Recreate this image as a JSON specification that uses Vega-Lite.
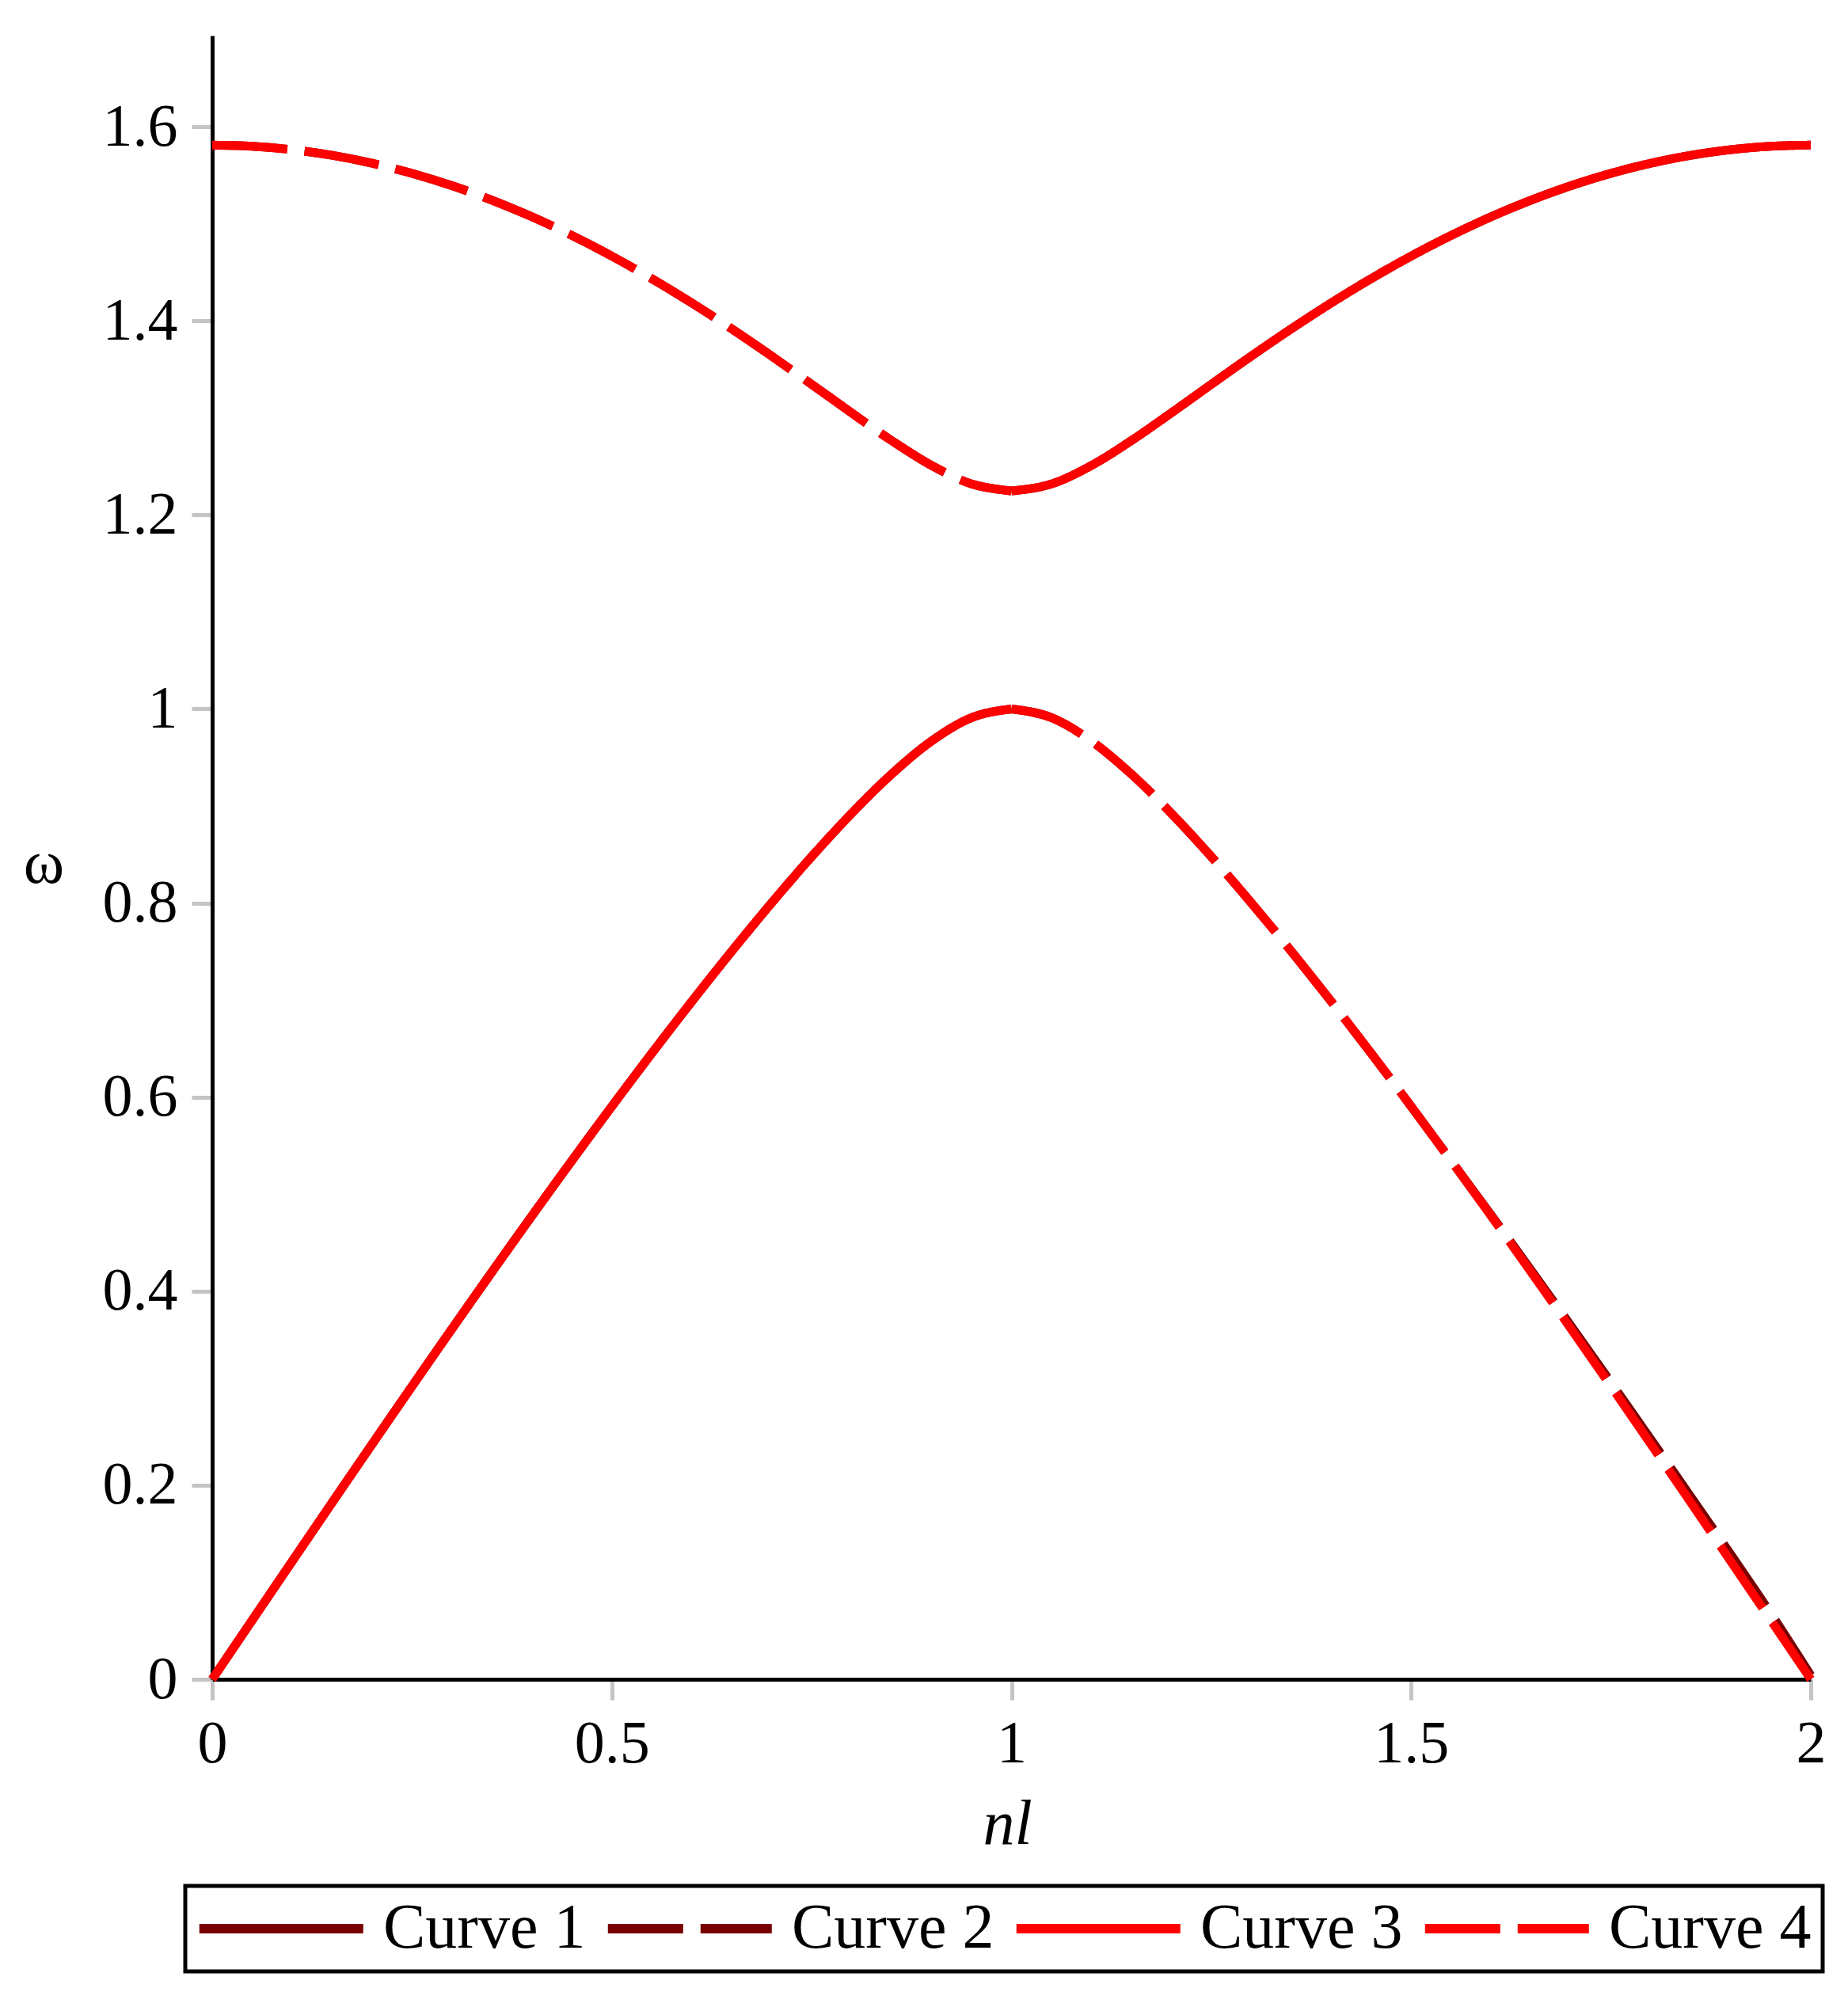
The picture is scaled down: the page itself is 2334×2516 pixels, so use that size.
{
  "$schema": "https://vega.github.io/schema/vega-lite/v6.json",
  "autosize": {"type": "none"},
  "width": 2019,
  "height": 2076,
  "padding": {"left": 268, "top": 45, "right": 47, "bottom": 395},
  "background": "white",
  "config": {
    "view": {"stroke": null},
    "font": "Liberation Serif",
    "axis": {"grid": false, "labelFlush": false, "domainColor": "black", "domainWidth": 5, "tickColor": "#c4c4c4", "tickWidth": 5, "tickSize": 26, "labelFont": "Liberation Serif", "labelFontSize": 76, "labelColor": "black", "titleFont": "Liberation Serif", "titleColor": "black", "titleFontWeight": "normal"}
  },
  "data": {"values": [
    {"c":"Curve 1","s":"a","x":0,"y":0},{"c":"Curve 1","s":"a","x":0.05,"y":0.06082},{"c":"Curve 1","s":"a","x":0.1,"y":0.12153},{"c":"Curve 1","s":"a","x":0.15,"y":0.18204},{"c":"Curve 1","s":"a","x":0.2,"y":0.24222},{"c":"Curve 1","s":"a","x":0.25,"y":0.30198},{"c":"Curve 1","s":"a","x":0.3,"y":0.36121},{"c":"Curve 1","s":"a","x":0.35,"y":0.41979},{"c":"Curve 1","s":"a","x":0.4,"y":0.47761},{"c":"Curve 1","s":"a","x":0.45,"y":0.53453},{"c":"Curve 1","s":"a","x":0.5,"y":0.59043},{"c":"Curve 1","s":"a","x":0.55,"y":0.64516},{"c":"Curve 1","s":"a","x":0.6,"y":0.69853},{"c":"Curve 1","s":"a","x":0.65,"y":0.75031},{"c":"Curve 1","s":"a","x":0.7,"y":0.80022},{"c":"Curve 1","s":"a","x":0.75,"y":0.84782},{"c":"Curve 1","s":"a","x":0.8,"y":0.89242},{"c":"Curve 1","s":"a","x":0.85,"y":0.93285},{"c":"Curve 1","s":"a","x":0.9,"y":0.96697},{"c":"Curve 1","s":"a","x":0.95,"y":0.99104},{"c":"Curve 1","s":"a","x":1,"y":1},
    {"c":"Curve 1","s":"b","x":1,"y":1.22474},{"c":"Curve 1","s":"b","x":1.05,"y":1.232},{"c":"Curve 1","s":"b","x":1.1,"y":1.25099},{"c":"Curve 1","s":"b","x":1.15,"y":1.27664},{"c":"Curve 1","s":"b","x":1.2,"y":1.30521},{"c":"Curve 1","s":"b","x":1.25,"y":1.33461},{"c":"Curve 1","s":"b","x":1.3,"y":1.36369},{"c":"Curve 1","s":"b","x":1.35,"y":1.39177},{"c":"Curve 1","s":"b","x":1.4,"y":1.41847},{"c":"Curve 1","s":"b","x":1.45,"y":1.44353},{"c":"Curve 1","s":"b","x":1.5,"y":1.46676},{"c":"Curve 1","s":"b","x":1.55,"y":1.48804},{"c":"Curve 1","s":"b","x":1.6,"y":1.50728},{"c":"Curve 1","s":"b","x":1.65,"y":1.52439},{"c":"Curve 1","s":"b","x":1.7,"y":1.53933},{"c":"Curve 1","s":"b","x":1.75,"y":1.55203},{"c":"Curve 1","s":"b","x":1.8,"y":1.56248},{"c":"Curve 1","s":"b","x":1.85,"y":1.57063},{"c":"Curve 1","s":"b","x":1.9,"y":1.57646},{"c":"Curve 1","s":"b","x":1.95,"y":1.57997},{"c":"Curve 1","s":"b","x":2,"y":1.58114},
    {"c":"Curve 2","s":"a","x":0,"y":1.58114},{"c":"Curve 2","s":"a","x":0.05,"y":1.57997},{"c":"Curve 2","s":"a","x":0.1,"y":1.57646},{"c":"Curve 2","s":"a","x":0.15,"y":1.57063},{"c":"Curve 2","s":"a","x":0.2,"y":1.56248},{"c":"Curve 2","s":"a","x":0.25,"y":1.55203},{"c":"Curve 2","s":"a","x":0.3,"y":1.53933},{"c":"Curve 2","s":"a","x":0.35,"y":1.52439},{"c":"Curve 2","s":"a","x":0.4,"y":1.50728},{"c":"Curve 2","s":"a","x":0.45,"y":1.48804},{"c":"Curve 2","s":"a","x":0.5,"y":1.46676},{"c":"Curve 2","s":"a","x":0.55,"y":1.44353},{"c":"Curve 2","s":"a","x":0.6,"y":1.41847},{"c":"Curve 2","s":"a","x":0.65,"y":1.39177},{"c":"Curve 2","s":"a","x":0.7,"y":1.36369},{"c":"Curve 2","s":"a","x":0.75,"y":1.33461},{"c":"Curve 2","s":"a","x":0.8,"y":1.30521},{"c":"Curve 2","s":"a","x":0.85,"y":1.27664},{"c":"Curve 2","s":"a","x":0.9,"y":1.25099},{"c":"Curve 2","s":"a","x":0.95,"y":1.232},{"c":"Curve 2","s":"a","x":1,"y":1.22474},
    {"c":"Curve 2","s":"b","x":1,"y":1},{"c":"Curve 2","s":"b","x":1.05,"y":0.99104},{"c":"Curve 2","s":"b","x":1.1,"y":0.96697},{"c":"Curve 2","s":"b","x":1.15,"y":0.93285},{"c":"Curve 2","s":"b","x":1.2,"y":0.89242},{"c":"Curve 2","s":"b","x":1.25,"y":0.84782},{"c":"Curve 2","s":"b","x":1.3,"y":0.80022},{"c":"Curve 2","s":"b","x":1.35,"y":0.75031},{"c":"Curve 2","s":"b","x":1.4,"y":0.69853},{"c":"Curve 2","s":"b","x":1.45,"y":0.64516},{"c":"Curve 2","s":"b","x":1.5,"y":0.59043},{"c":"Curve 2","s":"b","x":1.55,"y":0.53453},{"c":"Curve 2","s":"b","x":1.6,"y":0.47861},{"c":"Curve 2","s":"b","x":1.65,"y":0.42179},{"c":"Curve 2","s":"b","x":1.7,"y":0.36421},{"c":"Curve 2","s":"b","x":1.75,"y":0.30598},{"c":"Curve 2","s":"b","x":1.8,"y":0.24722},{"c":"Curve 2","s":"b","x":1.85,"y":0.18804},{"c":"Curve 2","s":"b","x":1.9,"y":0.12853},{"c":"Curve 2","s":"b","x":1.95,"y":0.06782},{"c":"Curve 2","s":"b","x":2,"y":0.004},
    {"c":"Curve 3","s":"a","x":0,"y":0},{"c":"Curve 3","s":"a","x":0.05,"y":0.06082},{"c":"Curve 3","s":"a","x":0.1,"y":0.12153},{"c":"Curve 3","s":"a","x":0.15,"y":0.18204},{"c":"Curve 3","s":"a","x":0.2,"y":0.24222},{"c":"Curve 3","s":"a","x":0.25,"y":0.30198},{"c":"Curve 3","s":"a","x":0.3,"y":0.36121},{"c":"Curve 3","s":"a","x":0.35,"y":0.41979},{"c":"Curve 3","s":"a","x":0.4,"y":0.47761},{"c":"Curve 3","s":"a","x":0.45,"y":0.53453},{"c":"Curve 3","s":"a","x":0.5,"y":0.59043},{"c":"Curve 3","s":"a","x":0.55,"y":0.64516},{"c":"Curve 3","s":"a","x":0.6,"y":0.69853},{"c":"Curve 3","s":"a","x":0.65,"y":0.75031},{"c":"Curve 3","s":"a","x":0.7,"y":0.80022},{"c":"Curve 3","s":"a","x":0.75,"y":0.84782},{"c":"Curve 3","s":"a","x":0.8,"y":0.89242},{"c":"Curve 3","s":"a","x":0.85,"y":0.93285},{"c":"Curve 3","s":"a","x":0.9,"y":0.96697},{"c":"Curve 3","s":"a","x":0.95,"y":0.99104},{"c":"Curve 3","s":"a","x":1,"y":1},
    {"c":"Curve 3","s":"b","x":1,"y":1.22474},{"c":"Curve 3","s":"b","x":1.05,"y":1.232},{"c":"Curve 3","s":"b","x":1.1,"y":1.25099},{"c":"Curve 3","s":"b","x":1.15,"y":1.27664},{"c":"Curve 3","s":"b","x":1.2,"y":1.30521},{"c":"Curve 3","s":"b","x":1.25,"y":1.33461},{"c":"Curve 3","s":"b","x":1.3,"y":1.36369},{"c":"Curve 3","s":"b","x":1.35,"y":1.39177},{"c":"Curve 3","s":"b","x":1.4,"y":1.41847},{"c":"Curve 3","s":"b","x":1.45,"y":1.44353},{"c":"Curve 3","s":"b","x":1.5,"y":1.46676},{"c":"Curve 3","s":"b","x":1.55,"y":1.48804},{"c":"Curve 3","s":"b","x":1.6,"y":1.50728},{"c":"Curve 3","s":"b","x":1.65,"y":1.52439},{"c":"Curve 3","s":"b","x":1.7,"y":1.53933},{"c":"Curve 3","s":"b","x":1.75,"y":1.55203},{"c":"Curve 3","s":"b","x":1.8,"y":1.56248},{"c":"Curve 3","s":"b","x":1.85,"y":1.57063},{"c":"Curve 3","s":"b","x":1.9,"y":1.57646},{"c":"Curve 3","s":"b","x":1.95,"y":1.57997},{"c":"Curve 3","s":"b","x":2,"y":1.58114},
    {"c":"Curve 4","s":"a","x":0,"y":1.58114},{"c":"Curve 4","s":"a","x":0.05,"y":1.57997},{"c":"Curve 4","s":"a","x":0.1,"y":1.57646},{"c":"Curve 4","s":"a","x":0.15,"y":1.57063},{"c":"Curve 4","s":"a","x":0.2,"y":1.56248},{"c":"Curve 4","s":"a","x":0.25,"y":1.55203},{"c":"Curve 4","s":"a","x":0.3,"y":1.53933},{"c":"Curve 4","s":"a","x":0.35,"y":1.52439},{"c":"Curve 4","s":"a","x":0.4,"y":1.50728},{"c":"Curve 4","s":"a","x":0.45,"y":1.48804},{"c":"Curve 4","s":"a","x":0.5,"y":1.46676},{"c":"Curve 4","s":"a","x":0.55,"y":1.44353},{"c":"Curve 4","s":"a","x":0.6,"y":1.41847},{"c":"Curve 4","s":"a","x":0.65,"y":1.39177},{"c":"Curve 4","s":"a","x":0.7,"y":1.36369},{"c":"Curve 4","s":"a","x":0.75,"y":1.33461},{"c":"Curve 4","s":"a","x":0.8,"y":1.30521},{"c":"Curve 4","s":"a","x":0.85,"y":1.27664},{"c":"Curve 4","s":"a","x":0.9,"y":1.25099},{"c":"Curve 4","s":"a","x":0.95,"y":1.232},{"c":"Curve 4","s":"a","x":1,"y":1.22474},
    {"c":"Curve 4","s":"b","x":1,"y":1},{"c":"Curve 4","s":"b","x":1.05,"y":0.99104},{"c":"Curve 4","s":"b","x":1.1,"y":0.96697},{"c":"Curve 4","s":"b","x":1.15,"y":0.93285},{"c":"Curve 4","s":"b","x":1.2,"y":0.89242},{"c":"Curve 4","s":"b","x":1.25,"y":0.84782},{"c":"Curve 4","s":"b","x":1.3,"y":0.80022},{"c":"Curve 4","s":"b","x":1.35,"y":0.75031},{"c":"Curve 4","s":"b","x":1.4,"y":0.69853},{"c":"Curve 4","s":"b","x":1.45,"y":0.64516},{"c":"Curve 4","s":"b","x":1.5,"y":0.59043},{"c":"Curve 4","s":"b","x":1.55,"y":0.53453},{"c":"Curve 4","s":"b","x":1.6,"y":0.47761},{"c":"Curve 4","s":"b","x":1.65,"y":0.41979},{"c":"Curve 4","s":"b","x":1.7,"y":0.36121},{"c":"Curve 4","s":"b","x":1.75,"y":0.30198},{"c":"Curve 4","s":"b","x":1.8,"y":0.24222},{"c":"Curve 4","s":"b","x":1.85,"y":0.18204},{"c":"Curve 4","s":"b","x":1.9,"y":0.12153},{"c":"Curve 4","s":"b","x":1.95,"y":0.06082},{"c":"Curve 4","s":"b","x":2,"y":0}
  ]},
  "mark": {"type": "line", "strokeWidth": 11, "strokeCap": "butt", "strokeJoin": "round", "interpolate": "monotone", "clip": false},
  "encoding": {
    "x": {"field": "x", "type": "quantitative", "scale": {"domain": [0, 2], "nice": false, "zero": false}, "axis": {"values": [0, 0.5, 1, 1.5, 2], "format": "~g", "labelPadding": 18, "title": "nl", "titleFontStyle": "italic", "titleFontSize": 80, "titleBaseline": "alphabetic", "titleY": 207, "titleX": 1004, "titleAnchor": "middle"}},
    "y": {"field": "y", "type": "quantitative", "scale": {"domain": [0, 1.694], "nice": false}, "axis": {"values": [0, 0.2, 0.4, 0.6, 0.8, 1, 1.2, 1.4, 1.6], "format": "~g", "labelPadding": 18, "title": "ω", "titleAngle": 0, "titleFontSize": 78, "titleBaseline": "alphabetic", "titleAlign": "center", "titleX": -213, "titleY": 1069, "titleAnchor": "start"}},
    "color": {"field": "c", "type": "nominal", "scale": {"domain": ["Curve 1", "Curve 2", "Curve 3", "Curve 4"], "range": ["#780000", "#780000", "#ff0000", "#ff0000"]},
      "legend": {"title": null, "orient": "none", "legendX": -34, "legendY": 2337, "direction": "horizontal", "symbolType": "M-1.4,0H6.6", "symbolSize": 2678, "symbolStrokeWidth": 12, "labelFontSize": 80, "labelFont": "Liberation Serif", "labelColor": "black", "labelLimit": 600, "labelOffset": 156, "columnPadding": 3, "padding": 14, "strokeColor": "black", "encode": {"legend": {"update": {"stroke": {"value": "black"}, "strokeWidth": {"value": 5}}}}}},
    "strokeDash": {"field": "c", "type": "nominal", "scale": {"domain": ["Curve 1", "Curve 2", "Curve 3", "Curve 4"], "range": [[1, 0], [95, 22], [1, 0], [95, 22]]}, "legend": null},
    "detail": {"field": "s"}
  }
}
